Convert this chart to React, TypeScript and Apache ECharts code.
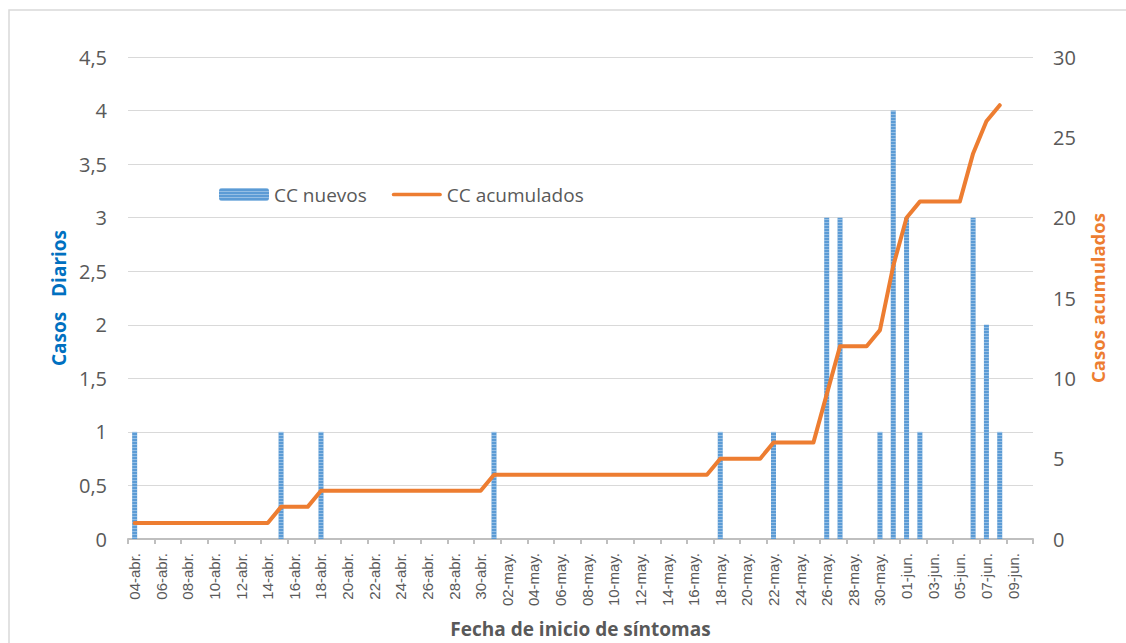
import React, { useEffect, useRef } from "react";
import * as echarts from "echarts";

const categories: string[] = [
  "04-abr.", "05-abr.", "06-abr.", "07-abr.", "08-abr.", "09-abr.", "10-abr.", "11-abr.", "12-abr.", "13-abr.",
  "14-abr.", "15-abr.", "16-abr.", "17-abr.", "18-abr.", "19-abr.", "20-abr.", "21-abr.", "22-abr.", "23-abr.",
  "24-abr.", "25-abr.", "26-abr.", "27-abr.", "28-abr.", "29-abr.", "30-abr.",
  "01-may.", "02-may.", "03-may.", "04-may.", "05-may.", "06-may.", "07-may.", "08-may.", "09-may.", "10-may.",
  "11-may.", "12-may.", "13-may.", "14-may.", "15-may.", "16-may.", "17-may.", "18-may.", "19-may.", "20-may.",
  "21-may.", "22-may.", "23-may.", "24-may.", "25-may.", "26-may.", "27-may.", "28-may.", "29-may.", "30-may.", "31-may.",
  "01-jun.", "02-jun.", "03-jun.", "04-jun.", "05-jun.", "06-jun.", "07-jun.", "08-jun.", "09-jun.", "10-jun.",
];

const ccNuevos: (number | null)[] = [
  1, 0, 0, 0, 0, 0, 0, 0, 0, 0,
  0, 1, 0, 0, 1, 0, 0, 0, 0, 0,
  0, 0, 0, 0, 0, 0, 0,
  1, 0, 0, 0, 0, 0, 0, 0, 0, 0,
  0, 0, 0, 0, 0, 0, 0, 1, 0, 0,
  0, 1, 0, 0, 0, 3, 3, 0, 0, 1, 4,
  3, 1, 0, 0, 0, 3, 2, 1, 0, 0,
];

const ccAcumulados: (number | null)[] = [
  1, 1, 1, 1, 1, 1, 1, 1, 1, 1,
  1, 2, 2, 2, 3, 3, 3, 3, 3, 3,
  3, 3, 3, 3, 3, 3, 3,
  4, 4, 4, 4, 4, 4, 4, 4, 4, 4,
  4, 4, 4, 4, 4, 4, 4, 5, 5, 5,
  5, 6, 6, 6, 6, 9, 12, 12, 12, 13, 17,
  20, 21, 21, 21, 21, 24, 26, 27, null, null,
];

const FONT = "'Open Sans', sans-serif";
const TICKFONT = "'Liberation Sans', Arial, sans-serif";
const GRAY = "#595959";

export default function App() {
  const ref = useRef<HTMLDivElement>(null);

  useEffect(() => {
    if (!ref.current) return;
    const chart = echarts.init(ref.current, undefined, { renderer: "svg" });
    chart.setOption({
      animation: false,
      backgroundColor: "#ffffff",
      textStyle: { fontFamily: FONT },
      graphic: [
        {
          type: "rect",
          shape: { x: 9, y: 10, width: 1130, height: 640 },
          style: { fill: "none", stroke: "#D9D9D9", lineWidth: 1.5 },
          silent: true,
        },
      ],
      legend: {
        left: 219,
        top: 185,
        padding: 0,
        itemWidth: 50,
        itemHeight: 13,
        itemGap: 25,
        textStyle: { color: GRAY, fontSize: 19, fontFamily: FONT },
        data: [
          { name: "CC nuevos" },
          {
            name: "CC acumulados",
            icon: "path://M2,0 L52,0 A2,2 0 0 1 52,4 L2,4 A2,2 0 0 1 2,0 Z",
            itemStyle: { color: "#ED7D31" },
          },
        ],
      },
      grid: { left: 128, right: 93, top: 57, height: 485, containLabel: false },
      xAxis: {
        type: "category",
        data: categories,
        boundaryGap: true,
        name: "Fecha de inicio de síntomas",
        nameLocation: "middle",
        nameGap: 80,
        nameTextStyle: { color: GRAY, fontSize: 19, fontWeight: "bold", fontFamily: FONT },
        axisLine: { lineStyle: { color: "#BFBFBF", width: 2 } },
        axisTick: { show: true, interval: 1, length: 5, lineStyle: { color: "#BFBFBF", width: 2 } },
        axisLabel: {
          interval: 1,
          rotate: 90,
          margin: 14,
          color: GRAY,
          fontSize: 15,
          fontFamily: TICKFONT,
        },
      },
      yAxis: [
        {
          type: "value",
          min: 0,
          max: 4.5,
          interval: 0.5,
          name: "Casos   Diarios",
          nameLocation: "middle",
          nameGap: 58,
          nameRotate: 90,
          nameTextStyle: { color: "#0070C0", fontSize: 19, fontWeight: "bold", fontFamily: FONT },
          axisLine: { show: false },
          axisTick: { show: false },
          splitLine: { lineStyle: { color: "#D9D9D9", width: 1 } },
          axisLabel: {
            color: GRAY,
            fontSize: 20,
            margin: 21,
            fontFamily: FONT,
            formatter: (v: number) => String(v).replace(".", ","),
          },
        },
        {
          type: "value",
          min: 0,
          max: 30,
          interval: 5,
          name: "Casos acumulados",
          nameLocation: "middle",
          nameGap: 55,
          nameRotate: 90,
          nameTextStyle: { color: "#ED7D31", fontSize: 18.5, fontWeight: "bold", fontFamily: FONT },
          axisLine: { show: false },
          axisTick: { show: false },
          splitLine: { show: false },
          axisLabel: { color: GRAY, fontSize: 20, margin: 20, fontFamily: FONT },
        },
      ],
      series: [
        {
          name: "CC nuevos",
          type: "bar",
          yAxisIndex: 0,
          data: ccNuevos,
          barWidth: 5,
          itemStyle: {
            color: "#5B9BD5",
            decal: {
              symbol: "rect",
              symbolSize: 1,
              color: "rgba(255,255,255,0.35)",
              dashArrayX: [1, 0],
              dashArrayY: [1, 2],
              rotation: 0,
            },
          },
        },
        {
          name: "CC acumulados",
          type: "line",
          yAxisIndex: 1,
          data: ccAcumulados,
          symbol: "none",
          lineStyle: { color: "#ED7D31", width: 4, cap: "round", join: "round" },
          itemStyle: { color: "#ED7D31" },
        },
      ],
    });
    return () => chart.dispose();
  }, []);

  return (
    <div
      ref={ref}
      style={{ position: "fixed", left: 0, top: 0, width: 1126, height: 643, background: "#fff" }}
    />
  );
}
